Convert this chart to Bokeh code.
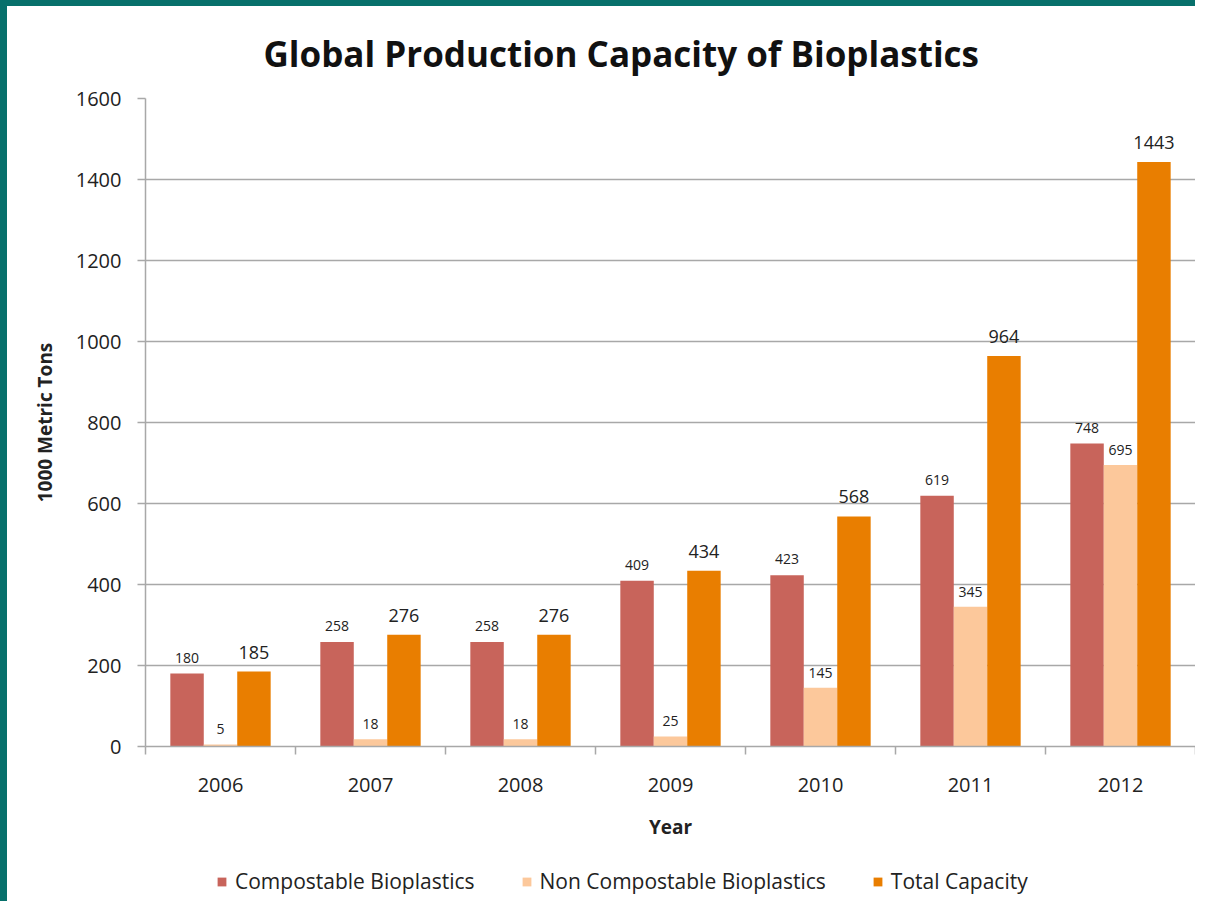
from bokeh.plotting import figure
from bokeh.models import ColumnDataSource, FixedTicker, Legend, LegendItem, Range1d, Title, Spacer
from bokeh.layouts import column, row
from bokeh.core.properties import value
from bokeh.embed import file_html
from bokeh.resources import INLINE

years = ["2006", "2007", "2008", "2009", "2010", "2011", "2012"]
compostable = [180, 258, 258, 409, 423, 619, 748]
non_compostable = [5, 18, 18, 25, 145, 345, 695]
total = [185, 276, 276, 434, 568, 964, 1443]
y_ticks = [0, 200, 400, 600, 800, 1000, 1200, 1400, 1600]
series_names = ["Compostable Bioplastics", "Non Compostable Bioplastics", "Total Capacity"]

FONT = "Open Sans"
C1, C2, C3 = "#C8645B", "#FCC89B", "#E97E00"
TEAL = "#07706B"
BW = 0.223

centers = [i + 0.5 for i in range(len(years))]
src = ColumnDataSource(dict(
    xc=[c - BW for c in centers], xn=centers, xt=[c + BW for c in centers],
    c=compostable, n=non_compostable, t=total,
    cl=[str(v) for v in compostable], nl=[str(v) for v in non_compostable], tl=[str(v) for v in total],
))

p = figure(width=1188, height=840, output_backend="svg", toolbar_location=None,
           x_range=Range1d(0, len(years)), y_range=Range1d(0, 1600),
           min_border_left=138, min_border_right=0, min_border_top=92, min_border_bottom=100)
p.outline_line_color = None
p.background_fill_color = "white"
p.border_fill_color = "white"

p.vbar(x="xc", top="c", width=BW, source=src, fill_color=C1, line_color=None)
p.vbar(x="xn", top="n", width=BW, source=src, fill_color=C2, line_color=None)
p.vbar(x="xt", top="t", width=BW, source=src, fill_color=C3, line_color=None)

p.text(x="xc", y="c", text="cl", source=src, text_align="center", text_baseline="bottom",
       y_offset=-11, text_font=value(FONT), text_font_size="14px", text_color="#222222")
p.text(x="xn", y="n", text="nl", source=src, text_align="center", text_baseline="bottom",
       y_offset=-10, text_font=value(FONT), text_font_size="14px", text_color="#222222")
p.text(x="xt", y="t", text="tl", source=src, text_align="center", text_baseline="bottom",
       y_offset=-13, text_font=value(FONT), text_font_size="18px", text_color="#222222")

# x axis
p.xaxis.ticker = FixedTicker(ticks=centers, minor_ticks=list(range(len(years) + 1)))
p.xaxis.major_label_overrides = {c: y for c, y in zip(centers, years)}
p.xaxis.major_tick_line_color = None
p.xaxis.major_tick_out = 0
p.xaxis.major_tick_in = 0
p.xaxis.minor_tick_out = 8
p.xaxis.minor_tick_in = 0
p.xaxis.minor_tick_line_color = "#A8A8A8"
p.xaxis.minor_tick_line_width = 1.5
p.xaxis.axis_line_color = "#A8A8A8"
p.xaxis.axis_line_width = 1.5
p.xaxis.major_label_standoff = 23
p.xaxis.major_label_text_font = FONT
p.xaxis.major_label_text_font_size = "20px"
p.xaxis.major_label_text_color = "#222222"
p.xaxis.axis_label = "Year"
p.xaxis.axis_label_text_font = FONT
p.xaxis.axis_label_text_font_style = "bold"
p.xaxis.axis_label_text_font_size = "19px"
p.xaxis.axis_label_text_color = "#222222"
p.xaxis.axis_label_standoff = 19

# y axis
p.yaxis.ticker = FixedTicker(ticks=y_ticks)
p.yaxis.major_tick_out = 8
p.yaxis.major_tick_in = 0
p.yaxis.minor_tick_line_color = None
p.yaxis.major_tick_line_color = "#A8A8A8"
p.yaxis.major_tick_line_width = 1.5
p.yaxis.axis_line_color = "#A8A8A8"
p.yaxis.axis_line_width = 1.5
p.yaxis.major_label_standoff = 16
p.yaxis.major_label_text_font = FONT
p.yaxis.major_label_text_font_size = "20px"
p.yaxis.major_label_text_color = "#222222"
p.yaxis.axis_label = "1000 Metric Tons"
p.yaxis.axis_label_text_font = FONT
p.yaxis.axis_label_text_font_style = "bold"
p.yaxis.axis_label_text_font_size = "19px"
p.yaxis.axis_label_text_color = "#222222"
p.yaxis.axis_label_standoff = 15

p.xgrid.grid_line_color = None
p.ygrid.ticker = FixedTicker(ticks=y_ticks[1:])
p.ygrid.grid_line_color = "#A8A8A8"
p.ygrid.grid_line_width = 1.5

t = Title(text="Global Production Capacity of Bioplastics", align="left", offset=118,
          text_font=FONT, text_font_style="bold", text_font_size="35px",
          text_color="#111111", standoff=40, vertical_align="top")
p.add_layout(t, "above")

# legend strip below the chart (swatch renderers sit outside the visible range)
lg = figure(width=1188, height=55, output_backend="svg", toolbar_location=None,
            x_axis_type=None, y_axis_type=None, x_range=Range1d(0, 1), y_range=Range1d(0, 1),
            min_border=0)
lg.outline_line_color = None
lg.grid.grid_line_color = None
lr = [lg.vbar(x=[-5], top=[-5], width=0.1, fill_color=c, line_color=None) for c in (C1, C2, C3)]
legend = Legend(items=[LegendItem(label=n, renderers=[r]) for n, r in zip(series_names, lr)],
                orientation="horizontal", location=(71, 6),
                glyph_width=11, glyph_height=11, label_standoff=8, spacing=46,
                padding=0, margin=0, border_line_color=None, background_fill_alpha=0,
                label_text_font=FONT, label_text_font_size="21px", label_text_color="#222222")
lg.add_layout(legend, "center")

top_bar = Spacer(width=1195, height=6, styles={"background-color": TEAL})
left_bar = Spacer(width=7, height=895, styles={"background-color": TEAL})
layout = column(top_bar, row(left_bar, column(p, lg)))

open("out.html", "w").write(file_html(layout, INLINE))
